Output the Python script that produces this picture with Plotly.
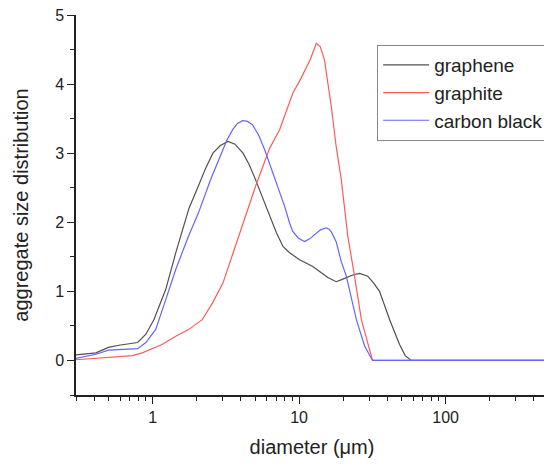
import math
import plotly.graph_objects as go

# graphene
graphene_d = [0.3, 0.41, 0.5, 0.59, 0.79, 0.9, 1.02, 1.23, 1.44, 1.77, 2.03, 2.3, 2.58, 2.9, 3.27, 3.65, 4.14, 4.55, 4.97, 5.6, 6.29, 7.0, 7.76, 8.61, 10.0, 12.4, 15.7, 17.9, 19.5, 21.0, 23.5, 25.9, 29.4, 32.0, 35.4, 41.5, 48.5, 53.0, 58.3, 500]
graphene_v = [0.08, 0.11, 0.19, 0.22, 0.26, 0.38, 0.59, 1.03, 1.56, 2.20, 2.50, 2.78, 3.00, 3.11, 3.17, 3.13, 3.00, 2.84, 2.65, 2.38, 2.09, 1.85, 1.65, 1.56, 1.46, 1.36, 1.20, 1.14, 1.17, 1.20, 1.24, 1.26, 1.22, 1.13, 1.00, 0.59, 0.23, 0.07, 0.0, 0.0]

# graphite
graphite_d = [0.3, 0.5, 0.73, 0.85, 1.16, 1.44, 1.77, 2.18, 2.56, 3.02, 3.93, 5.10, 6.29, 7.36, 9.07, 10.35, 12.0, 13.1, 13.95, 14.9, 16.6, 17.9, 19.4, 21.5, 23.9, 26.6, 31.7, 500]
graphite_v = [0.01, 0.04, 0.07, 0.11, 0.23, 0.35, 0.45, 0.59, 0.83, 1.12, 1.85, 2.55, 3.07, 3.34, 3.87, 4.09, 4.37, 4.59, 4.54, 4.35, 3.67, 3.10, 2.62, 1.80, 1.22, 0.59, 0.0, 0.0]

# carbon black
carbon_d = [0.3, 0.41, 0.5, 0.65, 0.79, 0.9, 1.05, 1.23, 1.44, 1.76, 2.06, 2.49, 2.87, 3.2, 3.52, 3.8, 4.11, 4.45, 4.81, 5.3, 5.82, 6.98, 8.0, 8.61, 9.03, 9.9, 10.9, 11.8, 12.8, 14.0, 15.3, 16.0, 16.6, 17.9, 19.4, 21.0, 24.6, 28.0, 31.7, 500]
carbon_v = [0.03, 0.09, 0.15, 0.16, 0.17, 0.26, 0.45, 0.88, 1.32, 1.80, 2.14, 2.62, 2.95, 3.18, 3.34, 3.43, 3.47, 3.46, 3.41, 3.26, 3.05, 2.57, 2.22, 1.99, 1.87, 1.77, 1.72, 1.76, 1.82, 1.89, 1.92, 1.90, 1.86, 1.72, 1.43, 1.22, 0.59, 0.21, 0.0, 0.0]

names = ["graphene", "graphite", "carbon black"]
colors = ["rgb(80,80,80)", "rgb(255,90,90)", "rgb(100,100,255)"]
xtick_vals = [1, 10, 100]
xtick_text = ["1", "10", "100"]
ytick_vals = [0, 1, 2, 3, 4, 5]

fig = go.Figure()
for name, xs, ys, c in zip(names, [graphene_d, graphite_d, carbon_d],
                           [graphene_v, graphite_v, carbon_v], colors):
    fig.add_trace(go.Scatter(x=xs, y=ys, mode="lines", name=name,
                             line=dict(color=c, width=1.2)))

font_family = "Liberation Sans, Arial, sans-serif"
fig.update_layout(
    width=544, height=458,
    margin=dict(l=68, r=4, t=7, b=71, autoexpand=False),
    paper_bgcolor="white", plot_bgcolor="white",
    font=dict(family=font_family, color="#222", size=16),
    legend=dict(x=0.638, y=0.921, xanchor="left", yanchor="top",
                bordercolor="#888", borderwidth=1,
                font=dict(size=19, color="#222"),
                tracegroupgap=0, itemwidth=46,
                bgcolor="white"),
    showlegend=True,
)
fig.update_xaxes(
    type="log", range=[math.log10(0.3), math.log10(500)],
    automargin=False,
    showline=True, linecolor="#222", linewidth=1.5, mirror=False,
    showgrid=False, zeroline=False,
    tickmode="array", tickvals=xtick_vals, ticktext=xtick_text,
    ticks="outside", ticklen=7, tickwidth=1.3, tickcolor="#222",
    tickfont=dict(size=16), ticklabeloverflow="allow",
    minor=dict(ticks="outside", ticklen=4, tickwidth=1.2, tickcolor="#222",
               tickmode="array",
               tickvals=[0.3, 0.4, 0.5, 0.6, 0.7, 0.8, 0.9,
                         2, 3, 4, 5, 6, 7, 8, 9,
                         20, 30, 40, 50, 60, 70, 80, 90,
                         200, 300, 400, 500],
               showgrid=False),
    title=dict(text="diameter (\u03bcm)", font=dict(size=20), standoff=15),
)
fig.update_yaxes(
    range=[-0.5, 5],
    automargin=False,
    showline=True, linecolor="#222", linewidth=1.5, mirror=False,
    showgrid=False, zeroline=False,
    tickmode="array", tickvals=ytick_vals,
    ticks="outside", ticklen=7, tickwidth=1.3, tickcolor="#222",
    tickfont=dict(size=16), ticklabeloverflow="allow",
    minor=dict(ticks="outside", ticklen=4, tickwidth=1.2, tickcolor="#222",
               tickmode="array", tickvals=[-0.5, 0.5, 1.5, 2.5, 3.5, 4.5],
               showgrid=False),
    title=dict(text="aggregate size distribution", font=dict(size=20), standoff=21),
)

fig.write_html("out.html")
